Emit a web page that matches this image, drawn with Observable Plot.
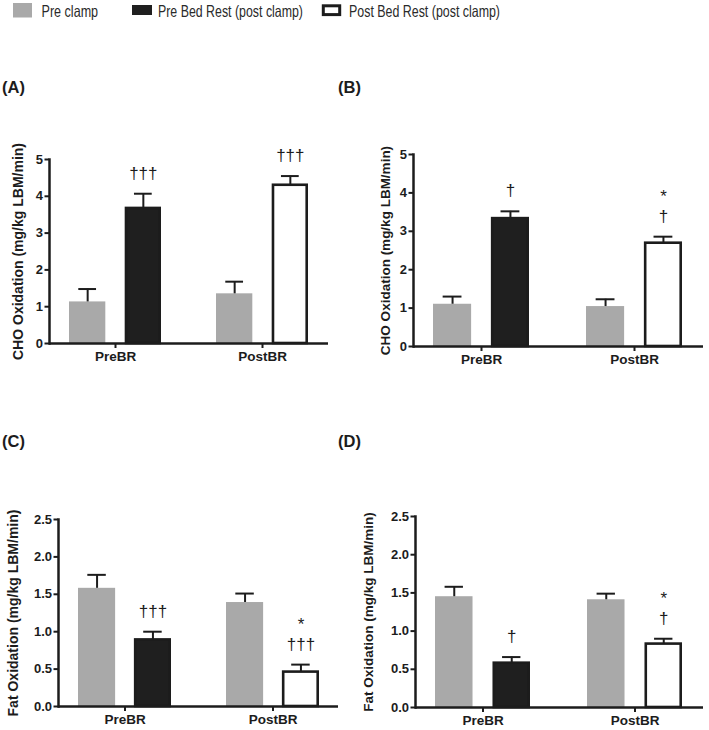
<!DOCTYPE html>
<html><head><meta charset="utf-8">
<script src="https://cdn.jsdelivr.net/npm/d3@7"></script>
<script src="https://cdn.jsdelivr.net/npm/@observablehq/plot@0.6"></script>
<style>
body{margin:0;background:#fff;}
#root{position:relative;width:709px;height:730px;overflow:hidden;background:#fff;}
#root svg{position:absolute;}
</style></head><body><div id="root"></div>
<script>
// ---- data ----
const groups = ["PreBR", "PostBR"];
const seriesNames = ["Pre clamp", "Pre Bed Rest (post clamp)", "Post Bed Rest (post clamp)"];
const barGroups = ["PreBR", "PreBR", "PostBR", "PostBR"];
const barSeries = ["Pre clamp", "Pre Bed Rest (post clamp)", "Pre clamp", "Post Bed Rest (post clamp)"];
const barSlots = [0, 1, 0, 1];

const choMeanA = [1.13, 3.67, 1.35, 4.30];
const choSemA  = [0.35, 0.40, 0.33, 0.25];
const choAnnA  = ["", "†††", "", "†††"];

const choMeanB = [1.10, 3.33, 1.04, 2.69];
const choSemB  = [0.20, 0.19, 0.19, 0.17];
const choAnnB  = ["", "†", "", "*\n†"];

const fatMeanC = [1.58, 0.89, 1.39, 0.46];
const fatSemC  = [0.18, 0.11, 0.12, 0.10];
const fatAnnC  = ["", "†††", "", "*\n†††"];

const fatMeanD = [1.45, 0.58, 1.41, 0.83];
const fatSemD  = [0.13, 0.08, 0.08, 0.07];
const fatAnnD  = ["", "†", "", "*\n†"];

const choTicks = [0, 1, 2, 3, 4, 5];
const fatTicks = [0, 0.5, 1.0, 1.5, 2.0, 2.5];
const choLabel = "CHO Oxidation (mg/kg LBM/min)";
const fatLabel = "Fat Oxidation (mg/kg LBM/min)";
const panelLetters = ["(A)", "(B)", "(C)", "(D)"];

// ---- style ----
const INK = "#1c1c1c";
const colors = ["#a9a9a9", "#1f1f1f", "#ffffff"];
const PI = 0.372, PO = 0.13;
const root = document.getElementById("root");

function panel(cfg) {
  const rows = cfg.means.map((m, i) => ({
    group: barGroups[i], series: barSeries[i], slot: barSlots[i],
    mean: m, hi: m + cfg.sems[i], ann: cfg.anns[i]
  }));
  const W = cfg.frameRight - cfg.frameLeft;
  const step = W / (2 - PI + 2 * PO), bw = step * (1 - PI);
  const inner = 0.6 * bw, off = 0.3 * bw, capIn = 0.1 * bw, capOut = 0.7 * bw;
  const marginLeft = cfg.frameLeft - cfg.left;
  const marginRight = cfg.left + cfg.width - cfg.frameRight;
  const marginTop = cfg.yTop - cfg.top;
  const marginBottom = 32;
  const height = cfg.y0 - cfg.top + marginBottom;
  const marks = [];
  for (const s of [0, 1]) {
    const d = rows.filter(r => r.slot === s);
    const L = s === 0;
    marks.push(
      Plot.barY(d, {x: "group", y: "mean", fill: "series",
        stroke: L ? "none" : INK, strokeWidth: 2.6,
        insetLeft: L ? 0 : inner + 1.3, insetRight: L ? inner : 1.3}),
      Plot.ruleX(d, {x: "group", y1: "mean", y2: "hi", dx: L ? -off : off, stroke: INK, strokeWidth: 2}),
      Plot.tickY(d, {x: "group", y: "hi", insetLeft: L ? capIn : capOut, insetRight: L ? capOut : capIn, stroke: INK, strokeWidth: 2}),
      Plot.text(d, {x: "group", y: "hi", text: "ann", dx: L ? -off : off, dy: -15,
        lineAnchor: "bottom", fontSize: 17, fontWeight: "normal", lineHeight: 1.15, fill: INK})
    );
  }
  marks.push(
    Plot.ruleY([0], {stroke: INK, strokeWidth: 2.5}),
    Plot.frame({anchor: "left", stroke: INK, strokeWidth: 2.5}),
    Plot.axisY({ticks: cfg.ticks, tickFormat: cfg.fmt, tickSize: 4.5, tickPadding: 2, stroke: INK, strokeWidth: 2,
      fontSize: 13, label: cfg.label, labelArrow: "none", labelAnchor: "center", labelOffset: cfg.labelOffset}),
    Plot.axisX({tickSize: 5, tickPadding: 3, stroke: INK, strokeWidth: 2, fontSize: 13.5, label: null})
  );
  const svg = Plot.plot({
    width: cfg.width, height, marginLeft, marginRight, marginTop, marginBottom,
    style: {fontFamily: "'Liberation Sans', Arial, sans-serif", fontWeight: "bold", fontSize: "13px", color: INK, background: "transparent"},
    x: {domain: groups, paddingInner: PI, paddingOuter: PO},
    y: {domain: cfg.domain},
    color: {domain: seriesNames, range: colors},
    marks
  });
  svg.style.left = cfg.left + "px";
  svg.style.top = cfg.top + "px";
  const setSize = (sel, size) => svg.querySelectorAll(sel).forEach(g => {
    g.setAttribute("font-size", size);
    g.querySelectorAll("text").forEach(t => t.setAttribute("font-size", size));
  });
  setSize('[aria-label="y-axis tick label"]', 13);
  setSize('[aria-label="x-axis tick label"]', 13.5);
  setSize('[aria-label="y-axis label"]', cfg.labelSize);
  svg.querySelectorAll('[aria-label="y-axis label"] text').forEach(t => {
    t.textContent = t.textContent.replace(/\s*[↑→↓←]\s*/g, "");
  });
  root.appendChild(svg);
}

const f0 = d3.format("d"), f1 = d3.format(".1f");
panel({means: choMeanA, sems: choSemA, anns: choAnnA, domain: [0, 5], ticks: choTicks, fmt: f0, label: choLabel,
  left: 0, top: 120, width: 340, frameLeft: 49, frameRight: 328, y0: 343, yTop: 159, labelOffset: 36, labelSize: 14});
panel({means: choMeanB, sems: choSemB, anns: choAnnB, domain: [0, 5], ticks: choTicks, fmt: f0, label: choLabel,
  left: 354, top: 120, width: 355, frameLeft: 413, frameRight: 703, y0: 346, yTop: 154, labelOffset: 33, labelSize: 13.5});
panel({means: fatMeanC, sems: fatSemC, anns: fatAnnC, domain: [0, 2.5], ticks: fatTicks, fmt: f1, label: fatLabel,
  left: 0, top: 480, width: 345, frameLeft: 58, frameRight: 338, y0: 706, yTop: 519, labelOffset: 50, labelSize: 14});
panel({means: fatMeanD, sems: fatSemD, anns: fatAnnD, domain: [0, 2.5], ticks: fatTicks, fmt: f1, label: fatLabel,
  left: 354, top: 480, width: 355, frameLeft: 415, frameRight: 703, y0: 707, yTop: 516, labelOffset: 52, labelSize: 13.5});

// ---- legend and panel letters ----
const over = d3.select(root).append("svg").attr("width", 709).attr("height", 730)
  .style("left", "0px").style("top", "0px").style("pointer-events", "none")
  .attr("font-family", "'Liberation Sans', Arial, sans-serif");
const leg = [
  {name: seriesNames[0], rx: 13, ry: 3, rw: 19, rh: 14.5, fill: colors[0], stroke: "none", sw: 0, tx: 41.5, tw: 56.6},
  {name: seriesNames[1], rx: 132, ry: 5, rw: 20, rh: 10, fill: colors[1], stroke: "none", sw: 0, tx: 158, tw: 145},
  {name: seriesNames[2], rx: 323.3, ry: 5.8, rw: 16.4, rh: 8.8, fill: colors[2], stroke: INK, sw: 3, tx: 349, tw: 151}
];
const lg = over.append("g");
lg.selectAll("rect").data(leg).join("rect")
  .attr("x", d => d.rx).attr("y", d => d.ry).attr("width", d => d.rw).attr("height", d => d.rh)
  .attr("fill", d => d.fill).attr("stroke", d => d.stroke).attr("stroke-width", d => d.sw);
lg.selectAll("text").data(leg).join("text")
  .attr("x", d => d.tx).attr("y", 16.5).attr("font-size", 16.5).attr("fill", "#2a2a2a")
  .attr("font-family", "'Liberation Sans Narrow', 'Arial Narrow', 'Liberation Sans', Arial, sans-serif")
  .attr("textLength", d => d.tw).attr("lengthAdjust", "spacingAndGlyphs")
  .text(d => d.name);
const letterPos = [[2, 93], [338, 93], [2, 447], [338, 447]];
over.append("g").selectAll("text").data(panelLetters).join("text")
  .attr("x", (d, i) => letterPos[i][0]).attr("y", (d, i) => letterPos[i][1])
  .attr("font-size", 16.5).attr("font-weight", "bold").attr("fill", INK)
  .text(d => d);
</script></body></html>
